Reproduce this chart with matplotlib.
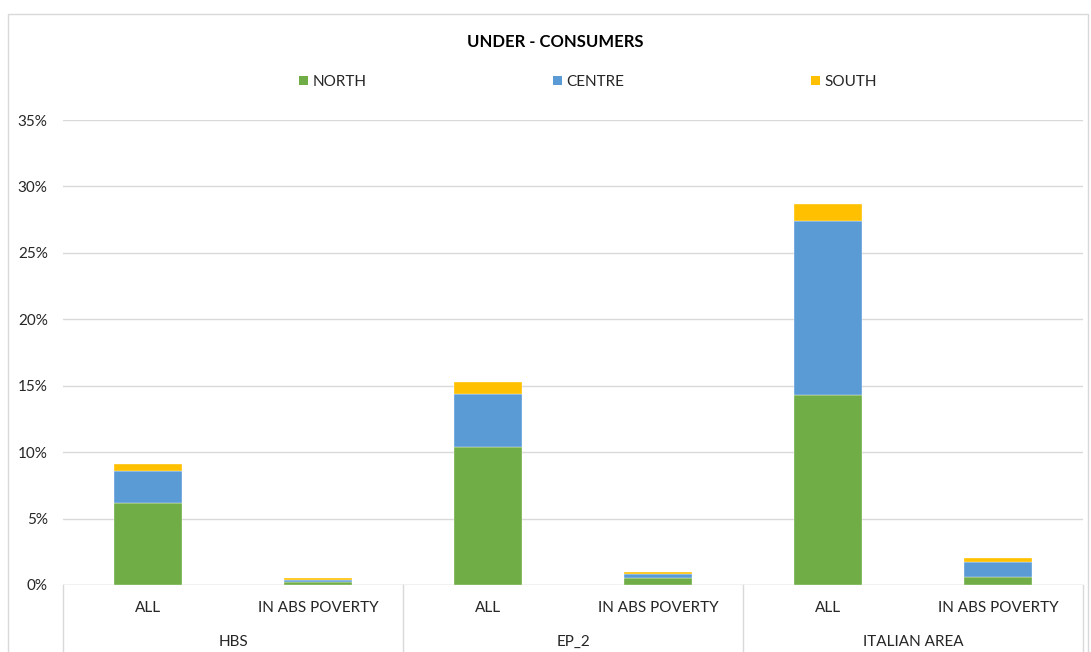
import matplotlib
matplotlib.use("Agg")
import matplotlib.pyplot as plt
from matplotlib.patches import Rectangle, Patch
import numpy as np

plt.rcParams['font.family'] = ['Lato', 'DejaVu Sans']

groups = ["HBS", "EP_2", "ITALIAN AREA"]
subcats = ["ALL", "IN ABS POVERTY"]
series_names = ["NORTH", "CENTRE", "SOUTH"]
north = [0.062, 0.0025, 0.104, 0.0055, 0.143, 0.0063]
centre = [0.024, 0.0015, 0.040, 0.0030, 0.131, 0.0112]
south = [0.005, 0.0015, 0.009, 0.0015, 0.013, 0.0025]
yticks = [0, 0.05, 0.10, 0.15, 0.20, 0.25, 0.30, 0.35]
colors = ["#70AD47", "#5B9BD5", "#FFC000"]

W, H = 1091, 652
fig = plt.figure(figsize=(W / 100, H / 100), dpi=100)
fig.patch.set_facecolor("white")

# chart border
fig.patches.append(Rectangle((8 / W, -0.01), 1080 / W, (H - 14) / H + 0.01,
                             transform=fig.transFigure, fill=False,
                             edgecolor="#D9D9D9", linewidth=1))

ax = fig.add_axes([63 / W, (H - 585) / H, 1020 / W, 465 / H])
x = np.arange(6) + 0.5
data = [north, centre, south]
bottom = np.zeros(6)
for vals, col, name in zip(data, colors, series_names):
    ax.bar(x, vals, 0.4, bottom=bottom, color=col, label=name,
           edgecolor="white", linewidth=0.25, zorder=3)
    bottom += np.array(vals)

ax.set_xlim(0, 6)
ax.set_ylim(0, 0.35)
ax.set_yticks(yticks)
ax.set_yticklabels([f"{int(round(v * 100))}%" for v in yticks], fontsize=11, color="#262626")
ax.tick_params(axis="y", length=0, pad=11)
ax.set_xticks([])
ax.grid(axis="y", color="#D9D9D9", linewidth=1, zorder=0)
for s in ax.spines.values():
    s.set_visible(False)
ax.axhline(0, color="#D9D9D9", linewidth=1, zorder=2)

# multi-level category axis
tr = ax.get_xaxis_transform()
ybot = -(H - 585) / 465 - 0.01
for xv in [0, 2, 4, 6]:
    ax.plot([xv, xv], [0, ybot], transform=tr, color="#D9D9D9", linewidth=1, clip_on=False)
y1 = -(608 - 585) / 465
y2 = -(642 - 585) / 465
for i in range(6):
    ax.text(x[i], y1, subcats[i % 2], transform=tr, ha="center", va="center",
            fontsize=11, color="#262626")
for g, name in enumerate(groups):
    ax.text(2 * g + 1, y2, name, transform=tr, ha="center", va="center",
            fontsize=11, color="#262626")

fig.text(555 / W, 1 - 42 / H, "UNDER - CONSUMERS", ha="center", va="center",
         fontsize=12, fontweight="bold", color="black")

handles = [Patch(facecolor=c, label=n) for c, n in zip(colors, series_names)]
fig.legend(handles=handles, loc="center", bbox_to_anchor=(588 / W, 1 - 82 / H),
           ncol=3, frameon=False, fontsize=11, handlelength=0.6, handleheight=0.6,
           handletextpad=0.3, columnspacing=12.2, labelcolor="#262626")

fig.savefig("out.png", dpi=100, facecolor="white")
